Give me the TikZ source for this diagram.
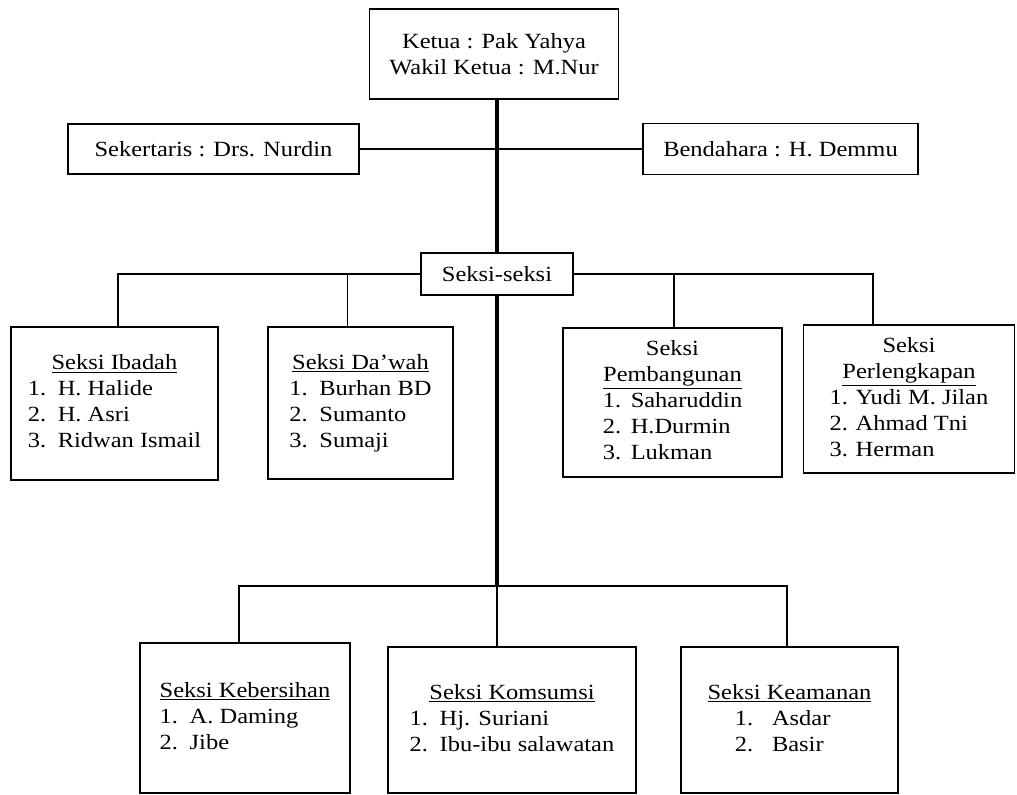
\documentclass[tikz,border=0pt]{standalone}
\usepackage{fontspec}
\setmainfont{Liberation Serif}[FakeStretch=1.13]
\usepackage{tikz}
\usetikzlibrary{positioning}

\newcommand{\nomor}[2][0.75cm]{\makebox[#1][l]{#2}}
\newcommand{\judul}[1]{\multicolumn{1}{@{}c@{}}{#1}}

\tikzset{
  kotak/.style 2 args={draw, line width=1.1pt, inner sep=0pt,
    minimum width=#1*0.025cm, minimum height=#2*0.025cm,
    font=\fontsize{15.4}{18.5}\selectfont},
  garis/.style={line width=1pt},
  batang/.style={line width=2.2pt},
}

\begin{document}
\begin{tikzpicture}[x=0.025cm,y=-0.025cm]
          \useasboundingbox (0,0) rectangle (1017,794);
          % pengurus inti
          \node[kotak={249}{90},align=center] (ketua) at (494,54) {Ketua : Pak Yahya\\Wakil Ketua : M.Nur};
          \node[kotak={291}{50}] (sekre) at (213.5,149) {Sekertaris : Drs. Nurdin};
          \node[kotak={275}{51}] (benda) at (780.5,149) {Bendahara : H. Demmu};
          \node[kotak={152}{42}] (seksi) at (497,274) {Seksi-seksi};

          % seksi baris atas
          \node[kotak={207}{153}] (ibadah) at (114.5,403.5) {\begin{tabular}{@{}l@{}}
            \judul{\underline{Seksi Ibadah}}\\
            \nomor{1.}H. Halide\\
            \nomor{2.}H. Asri\\
            \nomor{3.}Ridwan Ismail
          \end{tabular}};
          \node[kotak={185}{152}] (dawah) at (360.5,403) {\begin{tabular}{@{}l@{}}
            \judul{\underline{Seksi Da’wah}}\\
            \nomor{1.}Burhan BD\\
            \nomor{2.}Sumanto\\
            \nomor{3.}Sumaji
          \end{tabular}};
          \node[kotak={219}{149}] (bangun) at (672.5,402.5) {\begin{tabular}{@{}l@{}}
            \judul{Seksi}\\
            \judul{\underline{Pembangunan}}\\
            \nomor[0.7cm]{1.}Saharuddin\\
            \nomor[0.7cm]{2.}H.Durmin\\
            \nomor[0.7cm]{3.}Lukman
          \end{tabular}};
          \node[kotak={211}{148}] (lengkap) at (909,399) {\begin{tabular}{@{}l@{}}
            \judul{Seksi}\\
            \judul{\underline{Perlengkapan}}\\
            \nomor[0.65cm]{1.}Yudi M. Jilan\\
            \nomor[0.65cm]{2.}Ahmad Tni\\
            \nomor[0.65cm]{3.}Herman
          \end{tabular}};

          % seksi baris bawah
          \node[kotak={210}{150}] (bersih) at (245,718) {\begin{tabular}{@{}l@{}}
            \judul{\underline{Seksi Kebersihan}}\\
            \nomor{1.}A. Daming\\
            \nomor{2.}Jibe
          \end{tabular}};
          \node[kotak={248}{146}] (konsumsi) at (512,720) {\begin{tabular}{@{}l@{}}
            \judul{\underline{Seksi Komsumsi}}\\
            \nomor{1.}Hj. Suriani\\
            \nomor{2.}Ibu-ibu salawatan
          \end{tabular}};
          \node[kotak={217}{146}] (aman) at (789.5,720) {\begin{tabular}{@{}l@{}}
            \judul{\underline{Seksi Keamanan}}\\
            \hspace{0.68cm}\nomor[0.93cm]{1.}Asdar\\
            \hspace{0.68cm}\nomor[0.93cm]{2.}Basir
          \end{tabular}};

          \coordinate (hub) at (497,586);

          % garis penghubung
          \draw[batang] (seksi.north |- ketua.south) -- (seksi.north);
          \draw[batang] (seksi.south) -- (hub);
          \draw[garis] (sekre.east) -- (benda.west);
          \draw[garis] (seksi.west) -| ([xshift=0.09cm]ibadah.north);
          \draw[garis] (seksi.west) -| ([xshift=-0.33cm]dawah.north);
          \draw[garis] (seksi.east) -| ([xshift=0.04cm]bangun.north);
          \draw[garis] (seksi.east) -| ([xshift=-0.9cm]lengkap.north);
          \draw[garis] ([xshift=-0.15cm]bersih.north) |- (hub) -| ([xshift=-0.06cm]aman.north);
          \draw[garis] (hub) -- (hub |- konsumsi.north);
\end{tikzpicture}
\end{document}
